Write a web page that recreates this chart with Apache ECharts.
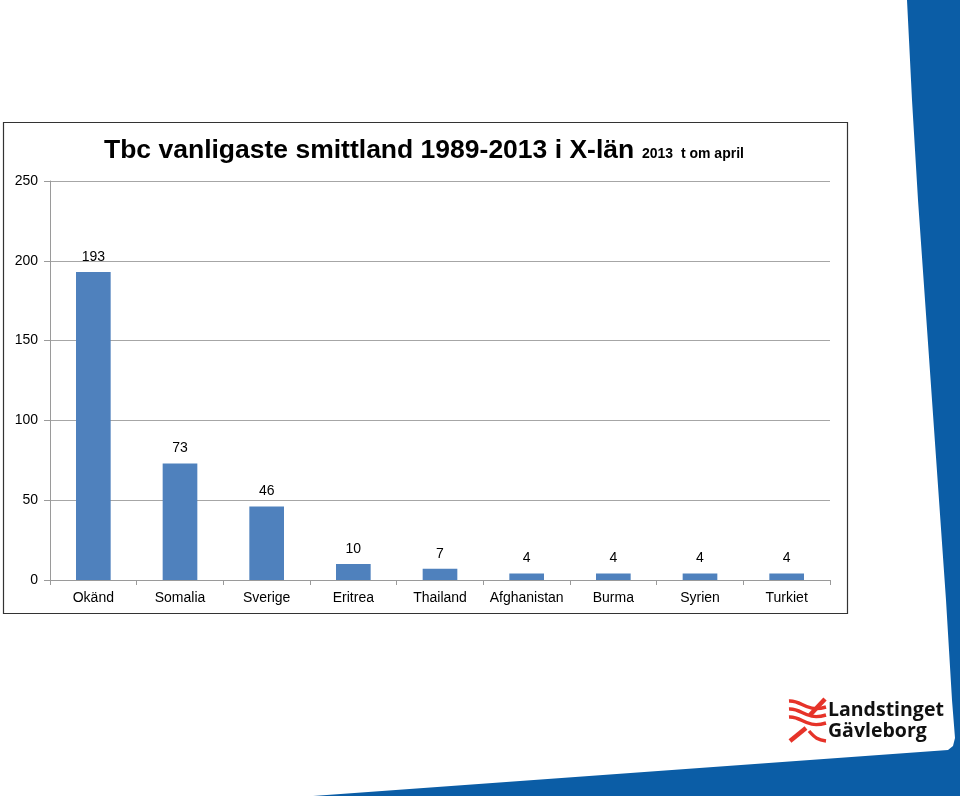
<!DOCTYPE html>
<html><head><meta charset="utf-8">
<script src="https://cdn.jsdelivr.net/npm/echarts@6/dist/echarts.min.js"></script>
<style>html,body{margin:0;padding:0;background:#fff}#c{width:960px;height:796px}</style>
</head><body><div id="c"></div>
<script>
const categories = ['Okänd','Somalia','Sverige','Eritrea','Thailand','Afghanistan','Burma','Syrien','Turkiet'];
const values = [193,73,46,10,7,4,4,4,4];
const yTicks = [0,50,100,150,200,250];

const chart = echarts.init(document.getElementById('c'), null, {renderer:'canvas'});
const FONT = '"Liberation Sans", Arial, sans-serif';
const RED = '#e63329';
function wave(y){
  return {type:'bezierCurve',silent:true,
    shape:{x1:789,y1:y,cpx1:802,cpy1:y-1,cpx2:806,cpy2:y+12,x2:826,y2:y+6},
    style:{fill:null,stroke:RED,lineWidth:3.4}};
}
chart.setOption({
  animation:false,
  backgroundColor:'#fff',
  title:{
    text:'{a|Tbc vanligaste smittland 1989-2013 i X-län}{b|  2013  t om april}',
    left:99, top:132,
    textStyle:{rich:{
      a:{fontFamily:FONT,fontWeight:'bold',fontSize:26.5,color:'#000'},
      b:{fontFamily:FONT,fontWeight:'bold',fontSize:14,color:'#000',padding:[7,0,0,0]}
    }}
  },
  grid:{left:50,right:130,top:181,bottom:216,containLabel:false},
  xAxis:{
    type:'category', data:categories,
    axisLine:{lineStyle:{color:'#9a9a9a',width:1}},
    axisTick:{show:true,length:5,lineStyle:{color:'#9a9a9a'}},
    axisLabel:{color:'#000',fontFamily:FONT,fontSize:14,margin:11,interval:0}
  },
  yAxis:{
    type:'value', min:0, max:250, interval:50,
    axisLine:{show:true,lineStyle:{color:'#9a9a9a',width:1}},
    axisTick:{show:true,length:6,lineStyle:{color:'#9a9a9a'}},
    axisLabel:{color:'#000',fontFamily:FONT,fontSize:14,margin:12,
      formatter:v=>yTicks.includes(v)?String(v):''},
    splitLine:{lineStyle:{color:'#a6a6a6',width:1}}
  },
  series:[{
    type:'bar', data:values, barWidth:'40%',
    itemStyle:{color:'#4f81bd'},
    label:{show:true,position:'top',distance:8,color:'#000',fontFamily:FONT,fontSize:14}
  }],
  graphic:[
    {type:'rect',z:-1,silent:true,shape:{x:3.5,y:122.5,width:844,height:491},style:{fill:null,stroke:'#333',lineWidth:1.2}},
    {type:'polygon',z:-2,silent:true,
      shape:{points:[[907,0],[912,100],[918,200],[925,300],[932,400],[939,500],[946,600],[952,700],[955,738],[953,746],[948,750],[313,796],[960,796],[960,0]]},
      style:{fill:'#0b5da6'}},
    wave(701), wave(709), wave(717),
    {type:'line',silent:true,shape:{x1:825,y1:699,x2:810,y2:715},style:{stroke:RED,lineWidth:4.5}},
    {type:'line',silent:true,shape:{x1:806,y1:728,x2:790,y2:741},style:{stroke:RED,lineWidth:4.5}},
    {type:'bezierCurve',silent:true,shape:{x1:809,y1:731,cpx1:815,cpy1:738,cpx2:818,cpy2:740,x2:826,y2:741},style:{fill:null,stroke:RED,lineWidth:3.4}},
    {type:'text',silent:true,style:{text:'Landstinget',x:828,y:700,fill:'#111',font:'bold 19.5px "Open Sans", "Noto Sans", sans-serif'}},
    {type:'text',silent:true,style:{text:'Gävleborg',x:828,y:721,fill:'#111',font:'bold 19.5px "Open Sans", "Noto Sans", sans-serif'}}
  ]
});
</script></body></html>
